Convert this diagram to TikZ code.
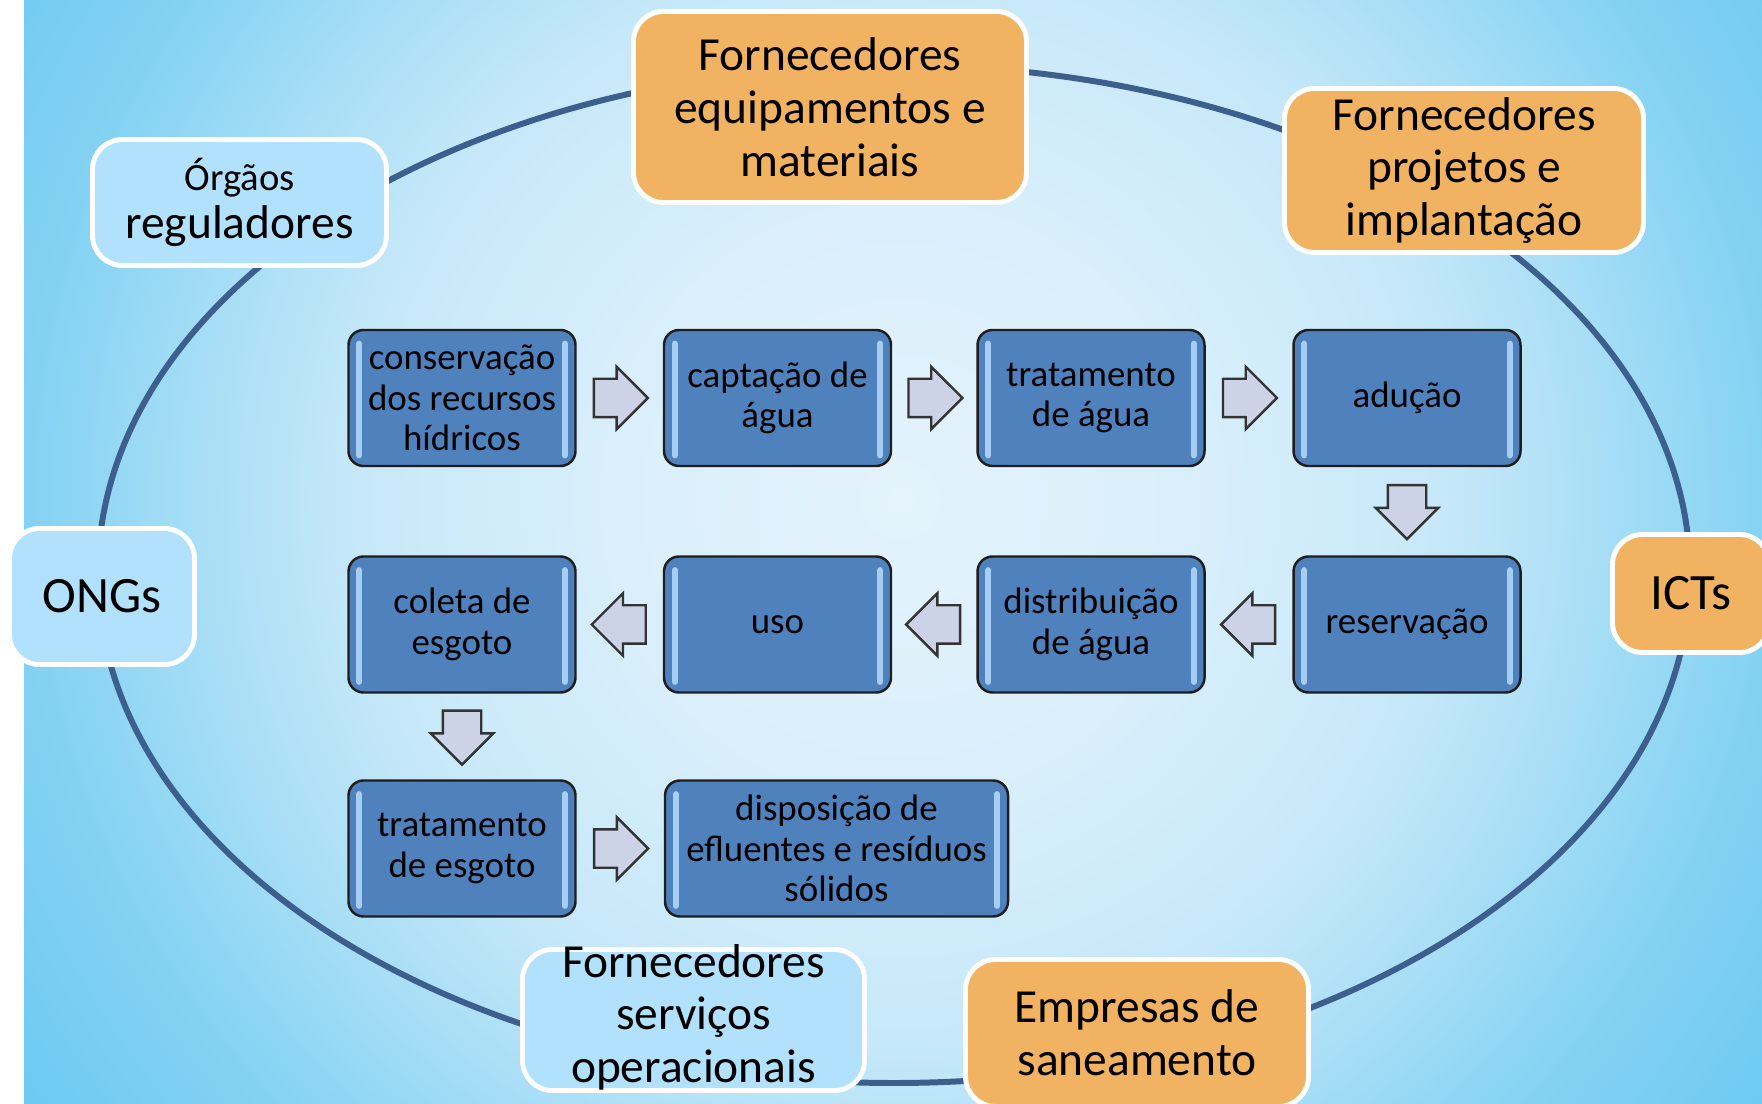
\documentclass[tikz,border=0pt]{standalone}
\usepackage{fontspec}
\setmainfont{Carlito}
\usepackage{xcolor}
\usepackage{tikz}
\usetikzlibrary{
	shapes.arrows,calc
}

\definecolor{bgA}{HTML}{E4F3FC}
\definecolor{bgB}{HTML}{D9EFFB}
\definecolor{bgC}{HTML}{C6E8F9}
\definecolor{bgD}{HTML}{A8DEF6}
\definecolor{bgE}{HTML}{84D2F3}
\definecolor{bgF}{HTML}{6FCAF2}
\definecolor{ringblue}{HTML}{3C5F8E}
\definecolor{stepblue}{HTML}{4F81BD}
\definecolor{stepedge}{HTML}{1E1E1E}
\definecolor{glint}{HTML}{A6CEF4}
\definecolor{arrowfill}{HTML}{CDD3E6}
\definecolor{orangebox}{HTML}{F1B262}
\definecolor{lightbox}{HTML}{B1E1FC}

\pgfdeclareradialshading{bgglow}{\pgfpoint{0bp}{0bp}}{%
	color(0bp)=(bgA); color(7bp)=(bgB); color(13bp)=(bgC);
	color(16.7bp)=(bgD); color(20.7bp)=(bgE); color(25bp)=(bgF); color(50bp)=(bgF)}

\begin{document}
\begin{tikzpicture}[
		stepbox/.style={rectangle, rounded corners=0.15cm, draw=stepedge, line width=0.7pt,
			fill=stepblue, minimum width=2.27cm, minimum height=1.36cm, inner sep=1pt,
			align=center, font=\fontsize{10.5}{11.5}\selectfont},
		partner/.style={rectangle, rounded corners=0.3cm, draw=white, line width=1.4pt,
			inner sep=1pt, align=center, font=\fontsize{13.5}{15}\selectfont},
		fatarrow/.style={single arrow, draw=black!80, line width=0.7pt, fill=arrowfill,
			minimum height=0.54cm, inner xsep=0pt, inner ysep=0.18cm,
			single arrow head extend=0.12cm, pos=0.4}
	]
		\clip (0,0) rectangle (17.62,-11.04);
		% background
		\begin{scope}
			\clip (0.24,0) rectangle (17.62,-11.04);
			\shade[shading=bgglow] (-1.5,-15.5) rectangle (19.5,5.5);
		\end{scope}
		\draw[ringblue, line width=1.7pt] (8.94,-5.74) ellipse [x radius=7.96, y radius=5.09];
		%
		\node[partner, fill=orangebox, minimum width=3.93cm, minimum height=1.91cm] (equip) at (8.30,-1.07) {Fornecedores\\equipamentos e\\materiais};
		\node[partner, fill=orangebox, minimum width=3.59cm, minimum height=1.64cm] (proj) at (14.64,-1.705) {Fornecedores\\projetos e\\implantação};
		\node[partner, fill=lightbox, minimum width=2.94cm, minimum height=1.26cm, font=\fontsize{13.5}{13.7}\selectfont] (regul) at (2.395,-2.025) {{\fontsize{11}{13}\selectfont Órgãos}\\reguladores};
		\node[partner, fill=lightbox, minimum width=1.85cm, minimum height=1.36cm, font=\fontsize{14.5}{16}\selectfont] (ongs) at (1.02,-5.965) {ONGs};
		\node[partner, fill=orangebox, minimum width=1.57cm, minimum height=1.18cm, font=\fontsize{14.5}{16}\selectfont] (icts) at (16.91,-5.935) {ICTs};
		\node[partner, fill=lightbox, minimum width=3.42cm, minimum height=1.41cm] (serv) at (6.935,-10.20) {\smash{\raisebox{-3.4pt}{\begin{tabular}{@{}c@{}}Fornecedores\\serviços\\operacionais\end{tabular}}}};
		\node[partner, fill=orangebox, minimum width=3.43cm, minimum height=1.47cm] (empr) at (11.37,-10.33) {Empresas de\\saneamento};
		%
		\node[stepbox] (cons) at (4.62,-3.98) {conservação\\dos recursos\\hídricos};
		\node[stepbox] (capt) at (7.775,-3.98) {captação de\\água};
		\node[stepbox] (trat) at (10.91,-3.98) {tratamento\\de água};
		\node[stepbox] (adu) at (14.07,-3.98) {adução};
		\node[stepbox] (res) at (14.07,-6.245) {reservação};
		\node[stepbox] (dist) at (10.91,-6.245) {distribuição\\de água};
		\node[stepbox] (uso) at (7.775,-6.245) {uso};
		\node[stepbox] (col) at (4.62,-6.245) {coleta de\\esgoto};
		\node[stepbox] (tresg) at (4.62,-8.485) {tratamento\\de esgoto};
		\node[stepbox, minimum width=3.43cm] (disp) at (8.365,-8.485) {disposição de\\efluentes e resíduos\\sólidos};
		%
		\foreach \s in {cons,capt,trat,adu,res,dist,uso,col,tresg,disp}
		{
			\draw[glint, line width=1.8pt, line cap=round] ([xshift=0.12cm,yshift=-0.15cm]\s.north west) -- ([xshift=0.12cm,yshift=0.12cm]\s.south west);
			\draw[glint, line width=1.8pt, line cap=round] ([xshift=-0.12cm,yshift=-0.15cm]\s.north east) -- ([xshift=-0.12cm,yshift=0.12cm]\s.south east);
		}
		%
		\path
		% forward arrows
		(cons) edge[draw=none] node[fatarrow]{} (capt)
		(capt) edge[draw=none] node[fatarrow]{} (trat)
		(trat) edge[draw=none] node[fatarrow]{} (adu)
		(tresg) edge[draw=none] node[fatarrow]{} (disp)
		% backward arrows
		(res) edge[draw=none] node[fatarrow, rotate=180]{} (dist)
		(dist) edge[draw=none] node[fatarrow, rotate=180]{} (uso)
		(uso) edge[draw=none] node[fatarrow, rotate=180]{} (col)
		% vertical arrows
		(adu) edge[draw=none] node[fatarrow, rotate=-90]{} (res)
		(col) edge[draw=none] node[fatarrow, rotate=-90]{} (tresg);
	\end{tikzpicture}
\end{document}
